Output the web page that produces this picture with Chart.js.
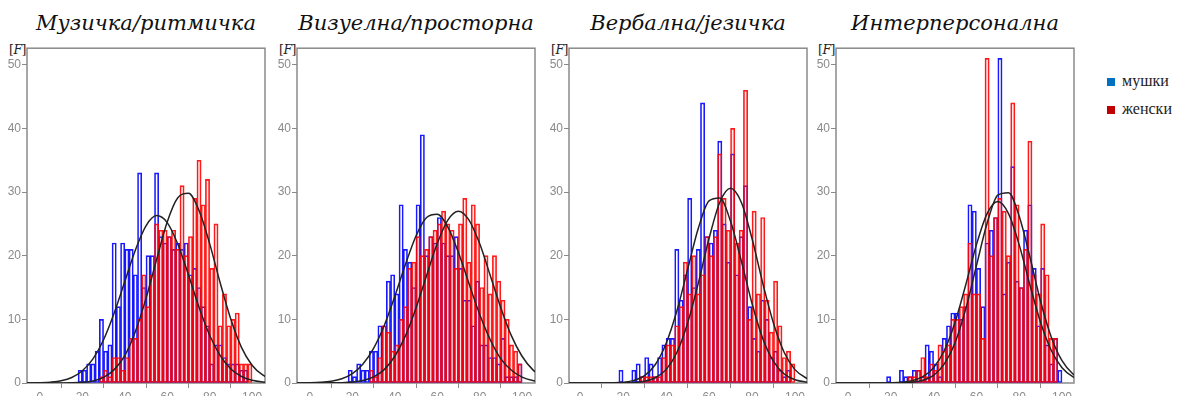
<!DOCTYPE html>
<html>
<head>
<meta charset="utf-8">
<script src="https://cdn.jsdelivr.net/npm/chart.js@4.4.1/dist/chart.umd.min.js"></script>
<style>
    html, body {
        margin: 0;
        padding: 0;
        background: #fff;
        width: 1177px;
        height: 396px;
        overflow: hidden;
    }
    .panel {
        position: absolute;
        top: 40px;
    }
    .title {
        position: absolute;
        top: 10px;
        width: 238px;
        text-align: center;
        font-family: "DejaVu Serif", serif;
        font-style: italic;
        font-size: 21px;
        line-height: 26px;
        color: #111;
        white-space: nowrap;
    }
    .flabel {
        position: absolute;
        top: 42px;
        width: 18px;
        text-align: right;
        font-family: "DejaVu Serif", serif;
        font-size: 12.5px;
        color: #222;
        letter-spacing: -0.5px;
    }
    .legend {
        position: absolute;
        left: 1107px;
        font-family: "Liberation Serif", serif;
        font-size: 16px;
        color: #222;
        line-height: 18px;
        white-space: nowrap;
    }
    .legend span {
        display: inline-block;
        width: 8px;
        height: 8px;
        margin-right: 7px;
    }
</style>
</head>
<body>

<div id="charts"></div>
<div class="legend" style="top:72px"><span style="background:#0070c0"></span>мушки</div>
<div class="legend" style="top:100px"><span style="background:#c00000"></span>женски</div>

<script>
// bin centres (width 2) and the x positions used to trace the normal curves
const bins = [19, 21, 23, 25, 27, 29, 31, 33, 35, 37, 39, 41, 43, 45, 47, 49, 51, 53, 55, 57, 59,
    61, 63, 65, 67, 69, 71, 73, 75, 77, 79, 81, 83, 85, 87, 89, 91, 93, 95, 97, 99, 101];
const curveX = [-10, -5, 0, 5, 10, 15, 20, 25, 30, 35, 40, 45, 50, 55, 60, 65, 70, 75, 80, 85, 90, 95, 100, 105, 110];

const titles = ["Музичка/ритмичка", "Визуелна/просторна", "Вербална/језичка", "Интерперсонална"];
const legendLabels = ["мушки", "женски"];
const yTicks = [0, 10, 20, 30, 40, 50];
const xTicks = [0, 20, 40, 60, 80, 100];

// frequencies, мушки (blue) and женски (red)
const musicM = [2, 2, 3, 3, 5, 10, 5, 6, 22, 12, 22, 21, 21, 17, 33, 15, 20, 20, 33, 23, 22,
    23, 21, 22, 21, 22, 17, 18, 15, 12, 9, 3, 6, 6, 4, 3, 3, 3, 2, 2, 0, 0];
const musicF = [0, 0, 0, 0, 0, 1, 2, 1, 4, 4, 2, 4, 7, 7, 10, 17, 12, 17, 25, 24, 24,
    23, 24, 21, 31, 20, 23, 29, 35, 28, 32, 18, 25, 9, 14, 9, 10, 11, 3, 3, 3, 0];
const visualM = [2, 1, 3, 2, 2, 5, 5, 9, 9, 16, 17, 14, 28, 21, 19, 15, 28, 39, 20, 23, 22,
    26, 22, 20, 20, 23, 18, 13, 13, 9, 16, 6, 6, 4, 4, 3, 7, 1, 1, 1, 3, 0];
const visualF = [0, 0, 0, 0, 0, 2, 1, 4, 9, 8, 5, 6, 10, 12, 18, 19, 23, 20, 21, 23, 24,
    25, 27, 25, 24, 18, 25, 29, 19, 28, 25, 15, 20, 14, 20, 16, 13, 10, 6, 5, 3, 0];
const verbalM = [2, 0, 0, 2, 3, 1, 4, 3, 1, 4, 6, 7, 7, 21, 13, 17, 29, 15, 21, 44, 23,
    22, 24, 38, 25, 19, 36, 17, 23, 31, 12, 7, 5, 13, 10, 4, 5, 2, 1, 2, 0, 0];
const verbalF = [0, 0, 0, 0, 0, 1, 1, 1, 1, 1, 4, 6, 6, 9, 12, 19, 14, 20, 14, 17, 23,
    20, 23, 36, 29, 24, 40, 22, 24, 46, 10, 27, 14, 26, 13, 8, 16, 9, 4, 5, 3, 0];
const interM = [1, 0, 0, 2, 1, 1, 2, 2, 1, 6, 5, 3, 1, 7, 9, 11, 11, 10, 12, 28, 27,
    18, 12, 22, 24, 26, 51, 14, 19, 34, 16, 15, 24, 28, 18, 9, 18, 6, 3, 7, 2, 0];
const interF = [0, 0, 0, 0, 0, 1, 1, 2, 4, 1, 3, 2, 6, 5, 6, 10, 10, 12, 14, 22, 14,
    14, 7, 51, 20, 26, 29, 27, 20, 44, 28, 15, 21, 38, 17, 14, 25, 17, 7, 7, 0, 0];

// normal curves at curveX
const musicMCurve = [0, 0.01, 0.04, 0.13, 0.35, 0.87, 1.92, 3.78, 6.8, 11.0, 15.95, 20.9, 24.7,
    26.3, 25.2, 21.8, 17.0, 11.9, 7.5, 4.3, 2.2, 1.02, 0.43, 0.16, 0.05];
const musicFCurve = [0, 0, 0, 0, 0.01, 0.03, 0.11, 0.33, 0.89, 2.1, 4.3, 8.1, 13.3,
    19.4, 25.3, 29.1, 29.8, 27.1, 21.9, 15.7, 10.0, 5.6, 2.8, 1.26, 0.5];
const visualMCurve = [0, 0.01, 0.03, 0.1, 0.27, 0.66, 1.46, 2.99, 5.45, 9.0, 13.6, 18.6, 23.1,
    26.0, 26.5, 24.5, 20.5, 15.6, 10.8, 6.8, 3.8, 2.0, 0.93, 0.4, 0.15];
const visualFCurve = [0, 0, 0, 0.01, 0.02, 0.05, 0.15, 0.4, 0.97, 2.1, 4.2, 7.4, 11.8,
    16.9, 21.9, 25.6, 27.0, 25.6, 21.9, 16.9, 11.8, 7.4, 4.2, 2.1, 0.97];
const verbalMCurve = [0, 0, 0, 0, 0.01, 0.03, 0.12, 0.41, 1.16, 2.9, 6.2, 11.3, 17.8,
    24.3, 28.6, 29.05, 25.4, 19.2, 12.5, 7.0, 3.4, 1.42, 0.51, 0.16, 0.04];
const verbalFCurve = [0, 0, 0, 0, 0, 0, 0.02, 0.08, 0.27, 0.82, 2.1, 4.8, 9.4,
    15.7, 22.7, 28.4, 30.6, 28.4, 22.7, 15.7, 9.4, 4.8, 2.1, 0.82, 0.27];
const interMCurve = [0, 0, 0, 0, 0, 0.01, 0.03, 0.11, 0.36, 1.0, 2.4, 5.1, 9.5,
    15.4, 21.7, 26.6, 28.5, 26.6, 21.7, 15.4, 9.5, 5.1, 2.4, 1.0, 0.36];
const interFCurve = [0, 0, 0, 0, 0, 0, 0.01, 0.03, 0.13, 0.42, 1.2, 3.0, 6.3,
    11.6, 18.4, 25.1, 29.5, 29.9, 26.2, 19.8, 12.8, 7.2, 3.5, 1.45, 0.52];

const charts = {};
charts.panels = [
    { left: 27, xMin: -6.1, xMax: 106.1, male: musicM, female: musicF, maleCurve: musicMCurve, femaleCurve: musicFCurve },
    { left: 297, xMin: -6.1, xMax: 106.1, male: visualM, female: visualF, maleCurve: visualMCurve, femaleCurve: visualFCurve },
    { left: 569, xMin: -5.2, xMax: 105.6, male: verbalM, female: verbalF, maleCurve: verbalMCurve, femaleCurve: verbalFCurve },
    { left: 836, xMin: -5.6, xMax: 105.6, male: interM, female: interF, maleCurve: interMCurve, femaleCurve: interFCurve }
];

// grey box round the plot area
const framePlugin = {
    id: 'frame',
    beforeDatasetsDraw(chart) {
        const a = chart.chartArea;
        const c = chart.ctx;
        c.save();
        c.strokeStyle = '#8a8a8a';
        c.lineWidth = 1.5;
        c.strokeRect(a.left, a.top, a.right - a.left, a.bottom - a.top);
        c.restore();
    }
};

const tickFont = { family: "'Liberation Sans', Arial, sans-serif", size: 12 };

charts.barSet = (values, color, fill, order) => ({
    type: 'bar',
    data: bins.map((x, j) => ({ x: x, y: values[j] })),
    grouped: false,
    barPercentage: 1,
    categoryPercentage: 1,
    borderWidth: 1,
    borderSkipped: false,
    borderColor: color,
    backgroundColor: fill,
    order: order
});

charts.curveSet = (values) => ({
    type: 'line',
    data: curveX.map((x, j) => ({ x: x, y: values[j] })),
    borderColor: '#222',
    borderWidth: 1.5,
    pointRadius: 0,
    fill: false,
    cubicInterpolationMode: 'monotone',
    order: 0
});

charts.draw = (p, i) => {
    const wrap = document.getElementById('charts');
    wrap.insertAdjacentHTML('beforeend', `
        <div class="title" style="left:${p.left}px">${titles[i]}</div>
        <div class="flabel" style="left:${p.left - 19}px">[<i>F</i>]</div>
        <div class="panel" style="left:${p.left - 27}px"><canvas id="c${i}" width="267" height="365"></canvas></div>
    `);

    const ctx = document.getElementById('c' + i).getContext('2d');
    new Chart(ctx, {
        type: 'bar',
        data: {
            datasets: [
                charts.curveSet(p.maleCurve),
                charts.curveSet(p.femaleCurve),
                charts.barSet(p.female, 'rgba(255,0,0,0.9)', 'rgba(255,60,60,0.12)', 1),
                charts.barSet(p.male, 'rgba(0,0,255,0.9)', 'rgba(255,255,255,0)', 2)
            ]
        },
        options: {
            responsive: false,
            animation: false,
            devicePixelRatio: 1,
            layout: { padding: { top: 6, right: 2, left: 0, bottom: 0 } },
            plugins: { legend: { display: false }, tooltip: { enabled: false } },
            scales: {
                x: {
                    type: 'linear',
                    min: p.xMin,
                    max: p.xMax,
                    offset: false,
                    afterBuildTicks: (s) => { s.ticks = xTicks.map(v => ({ value: v })); },
                    afterFit: (s) => { s.height = 22; },
                    grid: { drawOnChartArea: false, drawTicks: true, tickLength: 5, color: '#8a8a8a' },
                    border: { display: false },
                    ticks: { font: tickFont, color: '#8a8a8a', padding: 2, maxRotation: 0 }
                },
                y: {
                    min: 0,
                    max: 52.6,
                    afterBuildTicks: (s) => { s.ticks = yTicks.map(v => ({ value: v })); },
                    afterFit: (s) => { s.width = 27; },
                    grid: { drawOnChartArea: false, drawTicks: true, tickLength: 5, color: '#8a8a8a' },
                    border: { display: false },
                    ticks: { font: tickFont, color: '#8a8a8a', padding: 1 }
                }
            }
        },
        plugins: [framePlugin]
    });
};

charts.init = () => {
    charts.panels.forEach((p, i) => charts.draw(p, i));
};

charts.init();
</script>
</body>
</html>
